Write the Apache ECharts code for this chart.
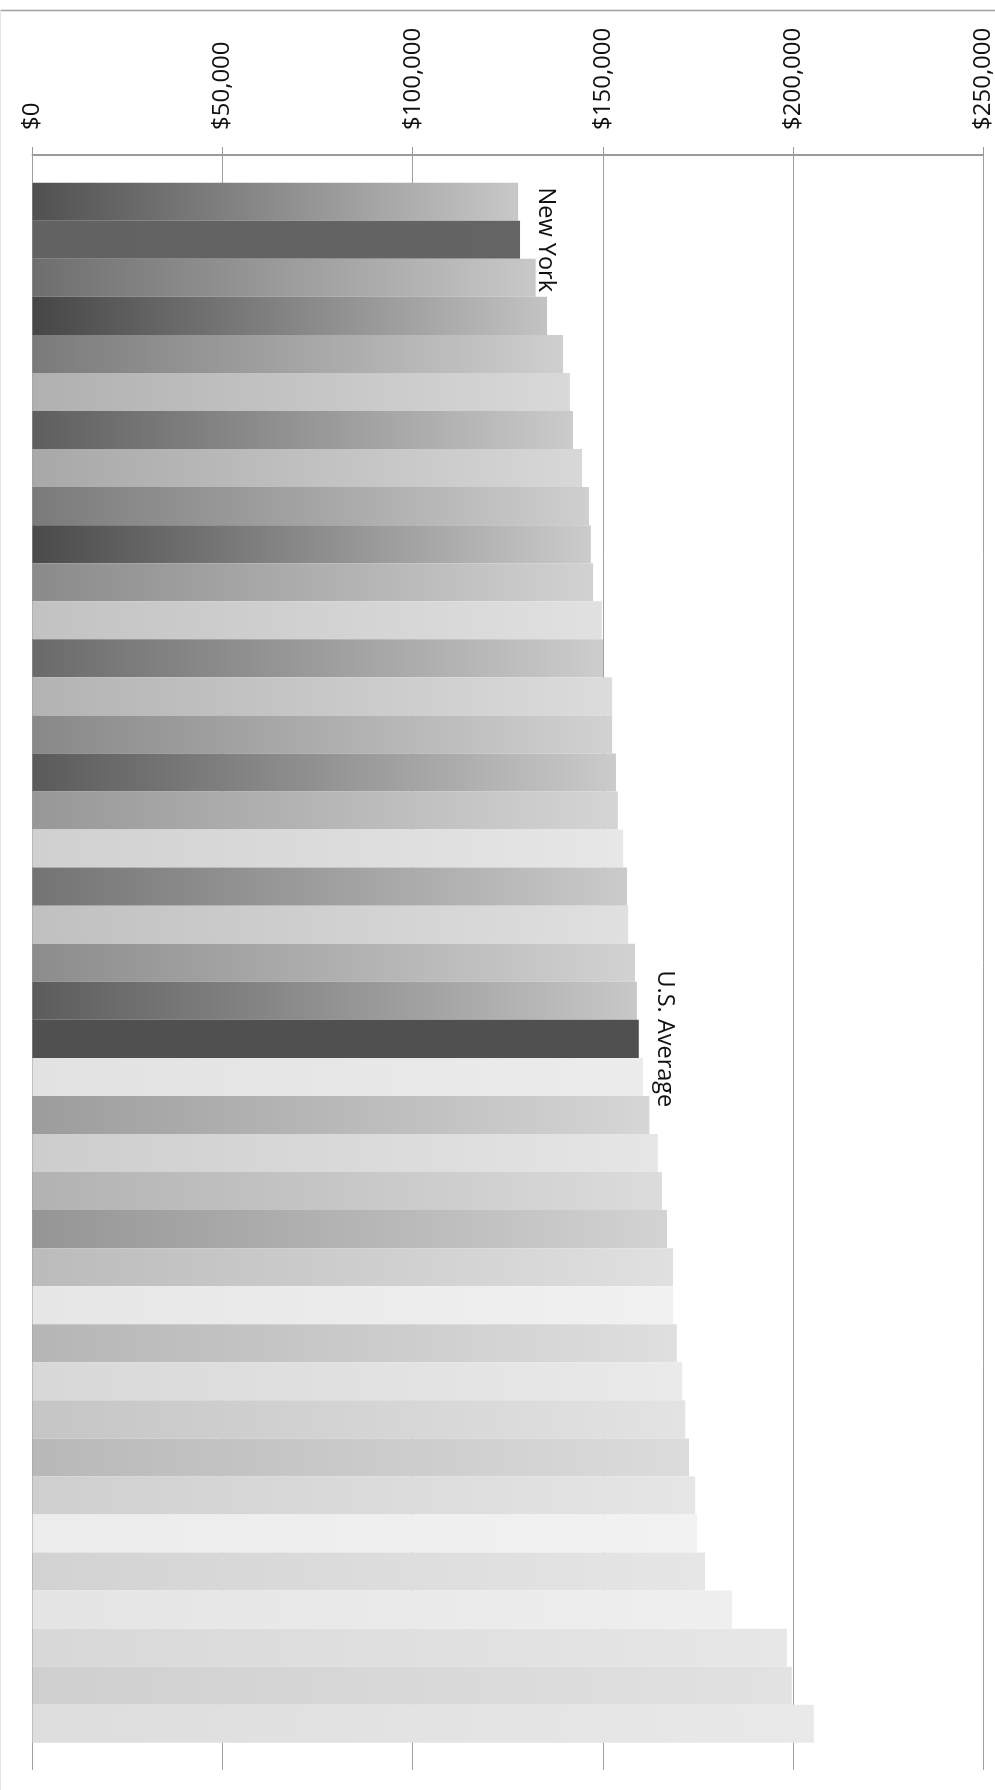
<!DOCTYPE html>
<html>
<head>
<meta charset="utf-8">
<script src="https://cdn.jsdelivr.net/npm/echarts@6/dist/echarts.min.js"></script>
<style>
html,body{margin:0;padding:0;background:#fff;}
#chart{width:995px;height:1790px;}
</style>
</head>
<body>
<div id="chart"></div>
<script>
// Category ids (top to bottom); only two are labelled in the picture
const categories = ['c1','New York','c3','c4','c5','c6','c7','c8','c9','c10','c11','c12','c13','c14','c15','c16','c17','c18','c19','c20','c21','c22','U.S. Average','c24','c25','c26','c27','c28','c29','c30','c31','c32','c33','c34','c35','c36','c37','c38','c39','c40','c41'];
const barLabels = ['', 'New York', '', '', '', '', '', '', '', '', '', '', '', '', '', '', '', '', '', '', '', '', 'U.S. Average', '', '', '', '', '', '', '', '', '', '', '', '', '', '', '', '', '', ''];
const values = [127600, 128100, 132200, 135200, 139400, 141200, 142000, 144400, 146200, 146700,
                147300, 149600, 149900, 152300, 152300, 153300, 153800, 155200, 156200, 156500,
                158300, 158800, 159300, 160400, 162100, 164300, 165400, 166700, 168300, 168300,
                169300, 170700, 171500, 172500, 174100, 174600, 176700, 183800, 198200, 199500, 205300];
const tickValues = [0, 50000, 100000, 150000, 200000, 250000];

// styles (gradient start/end per bar)
const colorLeft = ['#505050','#626262','#6e6e6e','#464646','#7a7a7a','#b0b0b0','#5e5e5e','#a8a8a8','#7a7a7a','#4a4a4a',
                   '#8a8a8a','#c2c2c2','#6a6a6a','#b3b3b3','#888888','#5a5a5a','#979797','#d0d0d0','#737373','#c0c0c0',
                   '#8c8c8c','#5c5c5c','#505050','#e2e2e2','#9c9c9c','#cdcdcd','#b2b2b2','#959595','#bbbbbb','#e6e6e6',
                   '#b5b5b5','#d8d8d8','#c5c5c5','#b8b8b8','#cfcfcf','#ececec','#d2d2d2','#e4e4e4','#d8d8d8','#cfcfcf','#dddddd'];
const colorRight = ['#c8c8c8','#646464','#c8c8c8','#c3c3c3','#cfcfcf','#d9d9d9','#cbcbcb','#d8d8d8','#cfcfcf','#cccccc',
                    '#d2d2d2','#e1e1e1','#cdcdcd','#dcdcdc','#d2d2d2','#cbcbcb','#d5d5d5','#e7e7e7','#cbcbcb','#e0e0e0',
                    '#d2d2d2','#c8c8c8','#505050','#ececec','#d6d6d6','#e6e6e6','#dcdcdc','#d3d3d3','#e0e0e0','#f1f1f1',
                    '#dfdfdf','#eaeaea','#e3e3e3','#dcdcdc','#e6e6e6','#f2f2f2','#e6e6e6','#efefef','#e7e7e7','#e2e2e2','#e9e9e9'];

const FONT = '"Open Sans", "Noto Sans", sans-serif';
const chart = echarts.init(document.getElementById('chart'), null, {renderer: 'canvas'});

const seriesData = values.map((v, i) => ({
  value: v,
  itemStyle: {
    color: {
      type: 'linear', x: 0, y: 0, x2: 1, y2: 0,
      colorStops: [{offset: 0, color: colorLeft[i]}, {offset: 1, color: colorRight[i]}]
    }
  },
  label: {
    show: barLabels[i] !== '',
    formatter: barLabels[i]
  }
}));

chart.setOption({
  animation: false,
  backgroundColor: '#fff',
  grid: [
    {left: 32.5, right: 11, top: 182.7, bottom: 47.2, containLabel: false},
    {left: 32.5, right: 11, top: 155, bottom: 20, containLabel: false}
  ],
  xAxis: [
    {type: 'value', gridIndex: 0, min: 0, max: 250000, interval: 50000, show: false},
    {
      type: 'value', gridIndex: 1, position: 'top', min: 0, max: 250000, interval: 50000,
      axisLine: {show: true, onZero: false, lineStyle: {color: '#9a9a9a', width: 2}},
      axisTick: {show: true, length: 8, lineStyle: {color: '#9a9a9a', width: 1}},
      splitLine: {show: true, lineStyle: {color: '#a0a0a0', width: 1}},
      axisLabel: {
        show: true, rotate: -90, margin: 25, color: '#111',
        fontFamily: FONT, fontSize: 24,
        formatter: v => '$' + v.toLocaleString('en-US'),
        customValues: tickValues
      }
    }
  ],
  yAxis: [
    {type: 'category', gridIndex: 0, data: categories, inverse: true, show: false},
    {type: 'value', gridIndex: 1, show: false, min: 0, max: 1}
  ],
  series: [{
    type: 'bar',
    xAxisIndex: 0, yAxisIndex: 0,
    barWidth: '100%',
    barCategoryGap: 0,
    data: seriesData,
    label: {
      position: 'right', rotate: -90, distance: 14,
      align: 'center', verticalAlign: 'bottom',
      color: '#111', fontFamily: FONT, fontSize: 23.5
    }
  }],
  graphic: [
    {type: 'line', silent: true, shape: {x1: 0, y1: 10.5, x2: 995, y2: 10.5}, style: {stroke: '#a0a0a0', lineWidth: 1.5}},
    {type: 'line', silent: true, shape: {x1: 0.5, y1: 10, x2: 0.5, y2: 1790}, style: {stroke: '#e4e4e4', lineWidth: 1}}
  ]
});
</script>
</body>
</html>
